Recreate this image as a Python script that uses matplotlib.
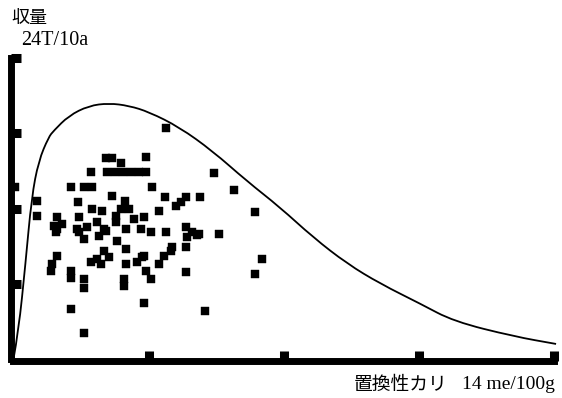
import numpy as np
import matplotlib
matplotlib.use("Agg")
import matplotlib.pyplot as plt
from matplotlib.path import Path
from matplotlib.patches import PathPatch

# exchangeable potassium (me/100g) vs. yield (T/10a)
k_me = [3.96, 2.39, 2.55, 3.43, 2.78, 2.00, 2.42, 2.63, 2.84, 3.04, 3.25, 3.43,
        5.18, 1.48, 1.82, 2.03, 3.59, 5.72, 2.55, 3.93, 4.35, 4.48, 4.84, 0.62,
        0.62, 1.67, 2.89, 2.99, 3.77, 6.25, 1.12, 1.04, 1.25, 1.12, 2.03, 2.29,
        1.69, 1.64, 1.90, 2.16, 2.34, 2.21, 1.82, 2.65, 2.78, 2.65, 3.12, 3.38,
        3.56, 3.30, 2.91, 2.68, 2.91, 2.34, 2.16, 2.00, 3.38, 3.20, 3.90, 3.96,
        4.48, 4.63, 4.81, 4.50, 4.48, 5.33, 4.11, 3.77, 1.12, 0.99, 0.96, 1.48,
        1.48, 1.82, 1.82, 2.86, 2.86, 2.91, 3.33, 3.43, 3.56, 4.48, 6.43, 6.25,
        1.48, 3.38, 4.97, 1.82, 0.05, 2.39, 2.26, 2.47, 4.09, 4.76, 1.09, 1.69,
        4.22]
yield_t = [18.4, 16.0, 16.0, 16.1, 15.6, 14.9, 14.9, 14.9, 14.9, 14.9, 14.9, 14.9,
           14.8, 13.7, 13.7, 13.7, 13.7, 13.5, 13.0, 12.9, 12.5, 12.9, 12.9, 12.6,
           11.4, 12.5, 12.6, 12.0, 11.8, 11.7, 11.3, 10.6, 10.8, 10.4, 12.0, 11.8,
           11.3, 10.4, 10.5, 10.9, 10.4, 9.8, 9.6, 11.4, 12.0, 10.9, 11.2, 11.3,
           10.1, 10.4, 10.4, 9.4, 8.8, 8.6, 8.0, 7.7, 8.2, 7.7, 8.2, 10.1,
           10.5, 10.1, 10.0, 9.7, 8.9, 10.0, 8.9, 7.6, 8.2, 7.6, 7.0, 7.0,
           6.5, 6.4, 5.7, 6.4, 5.8, 7.6, 8.1, 7.0, 6.4, 6.9, 8.0, 6.8,
           4.0, 4.5, 3.8, 2.1, 13.7, 10.2, 7.6, 8.1, 8.6, 9.9, 10.1, 10.1,
           12.2]

# hand-drawn upper envelope
env_x = [0.0, 0.13, 0.31, 0.47, 0.65, 0.91, 1.04, 1.43, 1.95, 2.47, 2.99, 3.51,
         4.29, 5.15, 6.04, 6.90, 7.76, 8.64, 9.50, 10.54, 11.40, 12.96, 14.05]
env_y = [0.0, 2.2, 7.6, 12.9, 15.8, 17.7, 18.2, 19.4, 20.2, 20.4, 20.2, 19.7,
         18.5, 16.6, 14.2, 12.1, 9.7, 7.6, 6.0, 4.4, 3.0, 1.8, 1.2]

x_ticks = [3.5, 7, 10.5, 14]
y_ticks = [6, 12, 18, 24]

fig = plt.figure(figsize=(5.62, 3.98), dpi=100)
ax = fig.add_axes([0.024, 0.098, 0.962, 0.756])

# smooth the envelope with quadratic bezier pieces through the read points
pts = list(zip(env_x, env_y))
verts = [pts[0]]
codes = [Path.MOVETO]
for i in range(1, len(pts) - 1):
    mid = ((pts[i][0] + pts[i + 1][0]) / 2, (pts[i][1] + pts[i + 1][1]) / 2)
    verts += [pts[i], mid]
    codes += [Path.CURVE3, Path.CURVE3]
verts.append(pts[-1])
codes.append(Path.LINETO)
ax.add_patch(PathPatch(Path(verts, codes), fc='none', ec='black', lw=1.3,
                       clip_on=False))

ax.plot(k_me, yield_t, 's', color='black', ms=5.6, mew=0.3, mec='black',
        clip_on=False)

ax.set_xlim(0, 14)
ax.set_ylim(0, 24)
for side in ['top', 'right']:
    ax.spines[side].set_visible(False)
for side in ['left', 'bottom']:
    ax.spines[side].set_linewidth(5)
    ax.spines[side].set_position(('outward', 1.5))
ax.set_xticks(x_ticks)
ax.set_yticks(y_ticks)
ax.set_xticklabels([])
ax.set_yticklabels([])
ax.tick_params(axis='both', direction='in', length=7.5, width=6.5, color='black')

jp = 'Noto Sans CJK JP'
serif = 'Liberation Serif'
fig.text(0.02, 0.955, '収量', family=jp, fontsize=13, va='center', ha='left')
fig.text(0.038, 0.897, '24T/10a', family=serif, fontsize=14.5, va='center', ha='left')
fig.text(0.630, 0.033, '置換性カリ', family=jp, fontsize=13.5, va='center', ha='left')
fig.text(0.988, 0.033, '14 me/100g', family=serif, fontsize=14, va='center', ha='right')

fig.savefig('out.png', dpi=100)
